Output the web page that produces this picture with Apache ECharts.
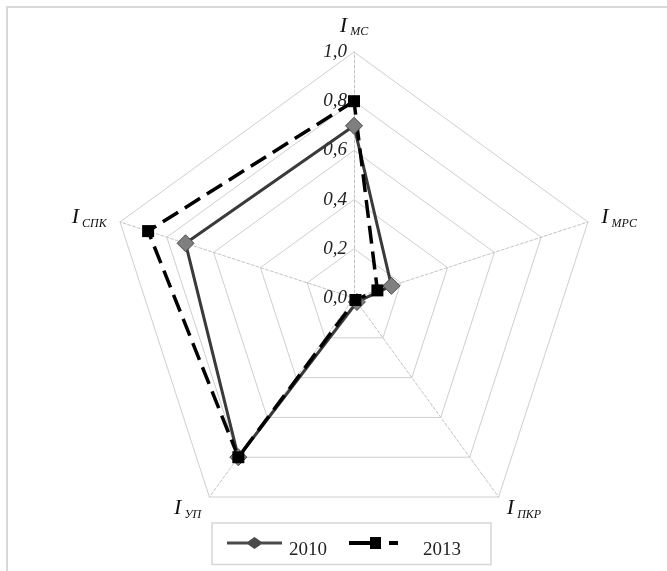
<!DOCTYPE html>
<html>
<head>
<meta charset="utf-8">
<script src="https://cdn.jsdelivr.net/npm/echarts@6/dist/echarts.min.js"></script>
<style>html,body{margin:0;padding:0;background:#fff;}#c{width:667px;height:571px;}</style>
</head>
<body>
<div id="c"></div>
<script>
// Axis names (subscripts of I), in ECharts radar order (counter-clockwise from top)
const indicatorNames = ['МС', 'СПК', 'УП', 'ПКР', 'МРС'];
const seriesNames = ['2010', '2013'];
const values2010 = [0.70, 0.72, 0.80, 0.02, 0.16];
const values2013 = [0.80, 0.88, 0.80, 0.01, 0.10];
const tickLabels = ['0,0', '0,2', '0,4', '0,6', '0,8', '1,0'];

const serif = 'Liberation Serif';
const icon2010 = 'path://M0,4.5 L21,4.5 L27.5,0 L34,4.5 L55,4.5 L55,7.5 L34,7.5 L27.5,12 L21,7.5 L0,7.5 Z';
const icon2013 = 'path://M0,4 L21,4 L21,0 L32,0 L32,12 L21,12 L21,8 L0,8 Z M40,4 L49,4 L49,8 L40,8 Z';

const chart = echarts.init(document.getElementById('c'));
chart.setOption({
  backgroundColor: '#fff',
  animation: false,
  graphic: [{
    type: 'rect', shape: { x: 7, y: 7, width: 680, height: 600 },
    style: { fill: 'none', stroke: '#d9d9d9', lineWidth: 2 }, silent: true, z: -10
  }],
  legend: {
    left: 212, top: 523,
    padding: [14, 30, 5, 15],
    borderColor: '#d6d6d6', borderWidth: 1.5,
    itemWidth: 55, itemHeight: 12, itemGap: 22,
    textStyle: {
      fontFamily: serif, fontSize: 19, color: '#222',
      rich: {
        a: { fontFamily: serif, fontSize: 19, color: '#222', padding: [14, 0, 0, 2] },
        b: { fontFamily: serif, fontSize: 19, color: '#222', padding: [14, 0, 0, 17] }
      }
    },
    formatter: function (n) { return n === seriesNames[1] ? '{b|' + n + '}' : '{a|' + n + '}'; },
    data: [
      { name: seriesNames[0], icon: icon2010, itemStyle: { color: '#4a4a4a', borderWidth: 0 } },
      { name: seriesNames[1], icon: icon2013, itemStyle: { color: '#000', borderWidth: 0 } }
    ]
  },
  radar: {
    center: [354, 298],
    radius: 246,
    startAngle: 90,
    splitNumber: 5,
    shape: 'polygon',
    indicator: indicatorNames.map((n, i) => {
      const o = { name: n, min: 0, max: 1 };
      if (i === 0) o.axisLabel = { show: true };
      return o;
    }),
    axisName: {
      formatter: function (v) { return '{i|I}{s|' + v + '}'; },
      rich: {
        i: { fontFamily: serif, fontStyle: 'italic', fontSize: 22, color: '#111' },
        s: { fontFamily: serif, fontStyle: 'italic', fontSize: 12, color: '#111', padding: [12, 0, 0, 3] }
      }
    },
    nameGap: 14,
    axisLine: { show: true, lineStyle: { color: '#c4c4c4', width: 1, type: [3, 2] } },
    splitLine: { show: true, lineStyle: { color: '#cfcfcf', width: 1 } },
    splitArea: { show: false },
    axisTick: { show: false },
    axisLabel: {
      show: false, margin: 7,
      fontFamily: serif, fontStyle: 'italic', fontSize: 19, color: '#222',
      formatter: function (v) { return tickLabels[Math.round(v * 5)]; }
    }
  },
  series: [{
    type: 'radar',
    z: 3,
    data: [{
      name: seriesNames[0],
      value: values2010,
      symbol: 'diamond', symbolSize: 17,
      lineStyle: { color: '#3a3a3a', width: 3 },
      itemStyle: { color: '#7f7f7f', borderColor: '#4a4a4a', borderWidth: 1 }
    }, {
      name: seriesNames[1],
      value: values2013,
      symbol: 'rect', symbolSize: 12,
      lineStyle: { color: '#000', width: 3.5, type: [18, 8] },
      itemStyle: { color: '#000', borderColor: '#000', borderWidth: 0 }
    }]
  }]
});
</script>
</body>
</html>
